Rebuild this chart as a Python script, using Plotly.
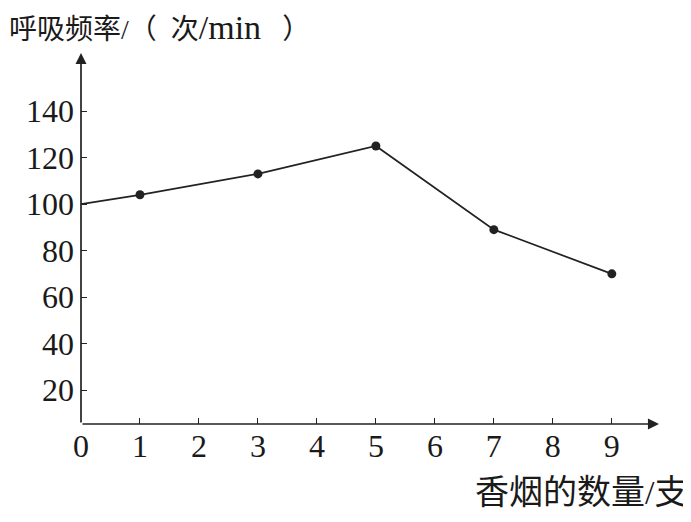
import plotly.graph_objects as go

cigarettes = [0, 1, 3, 5, 7, 9]
resp_rate = [100, 104, 113, 125, 89, 70]
x_ticks = [0, 1, 2, 3, 4, 5, 6, 7, 8, 9]
y_ticks = [20, 40, 60, 80, 100, 120, 140]

FONT = "Liberation Serif, Noto Sans CJK SC, serif"
INK = "#222222"
X0, Y0 = 0, 5.4
XMAX, YMAX = 9.8, 165

fig = go.Figure()
fig.add_trace(go.Scatter(
    x=cigarettes, y=resp_rate, mode="lines",
    line=dict(color=INK, width=1.7), showlegend=False, hoverinfo="skip"))
fig.add_trace(go.Scatter(
    x=cigarettes[1:], y=resp_rate[1:], mode="markers",
    marker=dict(color=INK, size=9), showlegend=False))

# axes with arrows
fig.add_annotation(x=XMAX, y=Y0, ax=X0, ay=Y0, xref="x", yref="y", axref="x", ayref="y",
                   text="", showarrow=True, arrowhead=2, arrowsize=1.3, arrowwidth=1.7,
                   arrowcolor=INK)
fig.add_annotation(x=X0, y=YMAX, ax=X0, ay=Y0, xref="x", yref="y", axref="x", ayref="y",
                   text="", showarrow=True, arrowhead=2, arrowsize=1.3, arrowwidth=1.7,
                   arrowcolor=INK)

fig.add_annotation(x=-0.128, y=1.125, xref="paper", yref="paper", xanchor="left", yanchor="top",
                   text="呼吸频率/（&nbsp;&nbsp;次<span style='font-size:34px'>/min</span>&nbsp;&nbsp;&nbsp;）",
                   showarrow=False,
                   font=dict(family=FONT, size=28, color="#1a1a1a"))
fig.add_annotation(x=1.054, y=-0.24, xref="paper", yref="paper", xanchor="right", yanchor="bottom",
                   text="香烟的数量/支", showarrow=False,
                   font=dict(family=FONT, size=34, color="#1a1a1a"))

fig.update_xaxes(range=[X0, XMAX], tickvals=x_ticks, ticktext=[str(v) for v in x_ticks],
                 ticks="inside", ticklen=6, tickwidth=1.4, tickcolor=INK, automargin=False,
                 showgrid=False, zeroline=False, showline=False,
                 tickfont=dict(family=FONT, size=32, color="#1a1a1a"))
fig.update_yaxes(range=[Y0, YMAX], tickvals=y_ticks, ticktext=[str(v) for v in y_ticks],
                 ticks="inside", ticklen=6, tickwidth=1.4, tickcolor=INK, automargin=False,
                 ticklabelstandoff=6,
                 showgrid=False, zeroline=False, showline=False,
                 tickfont=dict(family=FONT, size=32, color="#1a1a1a"))

# page body adds an 8px offset; shrink canvas to compensate
fig.update_layout(width=683, height=514, margin=dict(l=73, r=32, t=45, b=98),
                  plot_bgcolor="white", paper_bgcolor="white")
fig.write_html("out.html")
